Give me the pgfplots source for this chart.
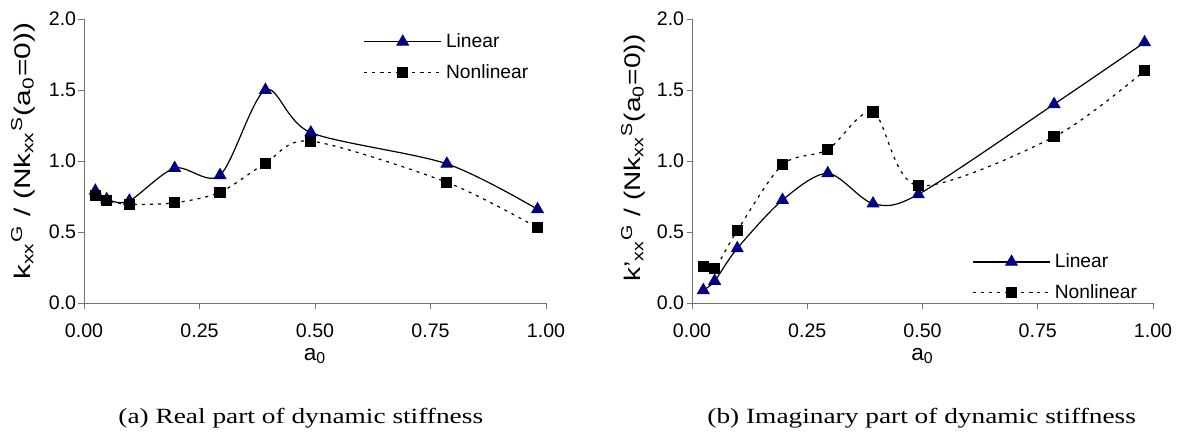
\documentclass[border=0pt]{standalone}
\usepackage{graphicx}
\usepackage{pgfplots}
\pgfplotsset{compat=1.18}
\usepackage{fontspec}
\setmainfont{Liberation Sans}
\newfontfamily\capfont{Liberation Serif}
\definecolor{navy}{RGB}{0,0,128}

\pgfplotstableread{
x lin nonlin
0.0245 0.79 0.756
0.0491 0.73 0.72
0.0982 0.72 0.695
0.1963 0.95 0.706
0.2945 0.90 0.78
0.3927 1.50 0.984
0.4909 1.20 1.14
0.7854 0.98 0.85
0.9817 0.66 0.53
}\realdata

\pgfplotstableread{
x lin nonlin
0.0245 0.09 0.256
0.0491 0.155 0.244
0.0982 0.385 0.51
0.1963 0.725 0.974
0.2945 0.913 1.08
0.3927 0.70 1.345
0.4909 0.765 0.826
0.7854 1.40 1.17
0.9817 1.835 1.636
}\imagdata

\pgfplotsset{
 myaxis/.style={
  scale only axis, width=231pt, height=142pt,
  xmin=0,xmax=1,ymin=0,ymax=2,
  axis lines=left, axis line style={black!55, -},
  tick align=outside, major tick length=2.75pt, tick style={black!55, line width=0.5pt},
  xtick={0,0.25,0.5,0.75,1}, xticklabels={0.00,0.25,0.50,0.75,1.00},
  ytick={0,0.5,1,1.5,2}, yticklabels={0.0,0.5,1.0,1.5,2.0},
  ticklabel style={font=\fontsize{9.8}{11}\selectfont},
  yticklabel style={inner sep=1pt},
  xticklabel style={yshift=-4pt},
  label style={font=\fontsize{11.3}{13}\selectfont},
  xlabel={a\textsubscript{0}},
  xlabel style={at={(axis description cs:0.5,-0.187)}, anchor=center},
  clip=false,
  legend cell align=left,
  legend style={draw=none, fill=none, font=\fontsize{9.6}{11}\selectfont, inner sep=0pt, row sep=3pt},
  legend image code/.code={\draw[mark repeat=2,mark phase=2] plot coordinates {(0cm,0cm) (0.68cm,0cm) (1.36cm,0cm)};},
 },
 lin/.style={black, line width=0.6pt, smooth, tension=0.5, mark=triangle*, mark size=3.2pt, mark options={fill=navy, draw=navy, solid}},
 nonlin/.style={black, line width=0.6pt, dash pattern=on 1.5pt off 2.5pt, smooth, tension=0.5, mark=square*, mark size=2.5pt, mark options={fill=black, draw=black, solid}},
}

\begin{document}
\begin{tikzpicture}
\path[use as bounding box] (0,0) rectangle (591pt,217.5pt);
\begin{axis}[myaxis, at={(42pt,66pt)}, anchor=south west,
  ylabel={\scalebox{1.32}[1]{k\textsubscript{xx}\textsuperscript{G} / (Nk\textsubscript{xx}\textsuperscript{S}(a\textsubscript{0}=0))}},
  ylabel style={at={(axis description cs:-0.132,0.535)}, anchor=center},
  legend style={at={(axis description cs:0.604,0.965)}, anchor=north west}]
\addplot[lin] table[x=x,y=lin] {\realdata};
\addlegendentry{Linear}
\addplot[nonlin] table[x=x,y=nonlin] {\realdata};
\addlegendentry{Nonlinear}
\end{axis}
\begin{axis}[myaxis, at={(346pt,66pt)}, anchor=south west, width=230.5pt,
  ylabel={\scalebox{1.24}[1]{k'\textsubscript{xx}\textsuperscript{G} / (Nk\textsubscript{xx}\textsuperscript{S}(a\textsubscript{0}=0))}},
  ylabel style={at={(axis description cs:-0.128,0.51)}, anchor=center},
  legend style={at={(axis description cs:0.607,0.19)}, anchor=north west}]
\addplot[lin] table[x=x,y=lin] {\imagdata};
\addlegendentry{Linear}
\addplot[nonlin] table[x=x,y=nonlin] {\imagdata};
\addlegendentry{Nonlinear}
\end{axis}
\node[anchor=base west, font=\capfont\fontsize{10.85}{13}\selectfont, inner sep=0pt] at (59pt,6pt) {\scalebox{1.26}[1]{(a) Real part of dynamic stiffness}};
\node[anchor=base west, font=\capfont\fontsize{10.85}{13}\selectfont, inner sep=0pt] at (353.5pt,6pt) {\scalebox{1.26}[1]{(b) Imaginary part of dynamic stiffness}};
\end{tikzpicture}
\end{document}
